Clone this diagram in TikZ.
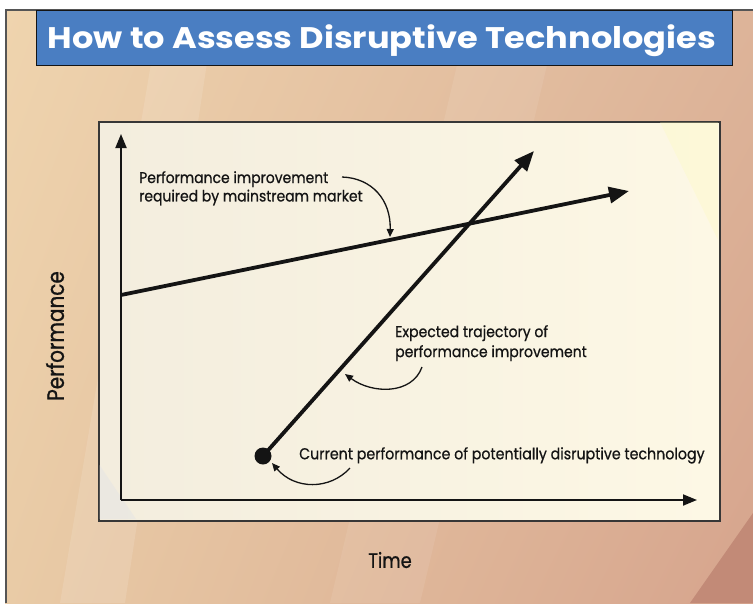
\documentclass[tikz,border=0pt]{standalone}
\usepackage{fontspec}
\setmainfont{Poppins}
\newfontfamily\lblfont[FakeStretch=0.9,FakeBold=0.7]{Poppins}
\newfontfamily\axfont[FakeStretch=0.85,FakeBold=0.8]{Poppins}
\usetikzlibrary{arrows.meta,shadings}
\definecolor{bgUL}{HTML}{EFD4AE}
\definecolor{bgUR}{HTML}{DDB499}
\definecolor{bgLL}{HTML}{E9CBA6}
\definecolor{bgLR}{HTML}{D6A48D}
\definecolor{bgDark}{HTML}{C28A77}
\definecolor{titleblue}{HTML}{4A7EC2}
\definecolor{panelA}{HTML}{F3EDDE}
\definecolor{panelB}{HTML}{FDF8E5}
\definecolor{ink}{HTML}{141414}
\definecolor{frame}{HTML}{555555}
\begin{document}
\begin{tikzpicture}[x=1pt,y=-1pt,
  axisline/.style={line width=1.9pt, draw=ink, -{Triangle[length=14pt,width=11pt]}},
  trend/.style={line width=3.8pt, draw=ink, -{Triangle[length=20pt,width=16pt]}},
  callout/.style={line width=1.3pt, draw=ink, -{Triangle[length=8pt,width=7pt]}},
  lbl/.style={font=\lblfont\fontsize{15.5}{18.4}\selectfont, align=left, inner sep=0pt, anchor=north west, text=ink},
  axlbl/.style={font=\axfont\fontsize{21}{24}\selectfont, inner sep=0pt, text=ink}]
\useasboundingbox (0,0) rectangle (753,603);
\fill[white] (0,0) rectangle (753,603);
% background
\shade[upper left=bgUL, upper right=bgUR, lower left=bgLL, lower right=bgLR] (5,10) rectangle (753,603);
\fill[white, opacity=0.12] (60,603) -- (125,603) -- (215,10) -- (160,10) -- cycle;
\fill[white, opacity=0.08] (330,603) -- (420,603) -- (560,10) -- (470,10) -- cycle;
\fill[bgDark] (690,603) -- (753,513) -- (753,603) -- cycle;
\draw[frame, line width=1.5pt] (6,603) -- (6,10) -- (753,10);
% title
\node[draw=ink, line width=1.3pt, fill=titleblue, minimum width=696pt, minimum height=55pt, inner sep=0pt, anchor=north west] (title) at (36,10) {};
\node[text=white, inner sep=0pt, font=\bfseries] (titletext) at (382,41) {\resizebox*{668pt}{32pt}{How to Assess Disruptive Technologies}};
% panel
\node[draw=ink!85, line width=1.7pt, left color=panelA, right color=panelB, minimum width=621pt, minimum height=399pt, inner sep=0pt, anchor=north west] (panel) at (98,121) {};
\fill[black!10, opacity=0.5] (99.5,465) -- (99.5,519) -- (136,519) -- cycle;
\fill[yellow!30, opacity=0.25] (660,122) -- (718,122) -- (718,240) -- cycle;
% axes
\coordinate (O) at (121,500);
\coordinate (ytip) at (121,134);
\coordinate (xtip) at (697,500);
\draw[axisline] (O) -- (ytip);
\draw[axisline] (O) -- (xtip);
% mainstream line
\coordinate (m0) at (121,295);
\coordinate (m1) at (629,191);
\draw[trend] (m0) -- (m1);
% disruptive line
\node[circle, fill=ink, minimum size=17pt, inner sep=0pt] (dot) at (263,456) {};
\coordinate (d1) at (534,151);
\draw[trend] (dot.center) -- (d1);
% labels
\node[lbl] (l1) at (139,171) {Performance improvement\\required by mainstream market};
\node[lbl, font=\lblfont\fontsize{15.6}{20}\selectfont] (l2) at (395,325) {Expected trajectory of\\performance improvement};
\node[lbl, font=\lblfont\fontsize{15.8}{20}\selectfont] (l3) at (299,447) {Current performance of potentially disruptive technology};
% callouts
\coordinate (c1s) at (342,177);
\coordinate (c1e) at (390,237);
\draw[callout] (c1s) .. controls (372,178) and (391,200) .. (c1e);
\coordinate (c2s) at (422,367);
\coordinate (c2e) at (345,374);
\draw[callout] (c2s) .. controls (412,395) and (372,394) .. (c2e);
\coordinate (c3s) at (350,468);
\coordinate (c3e) at (272,463);
\draw[callout] (c3s) .. controls (330,490) and (295,490) .. (c3e);
% axis labels
\node[axlbl, font=\axfont\fontsize{23.5}{26}\selectfont, rotate=90] (perf) at (55,336) {Performance};
\node[axlbl] (time) at (390,560) {Time};
\end{tikzpicture}
\end{document}
